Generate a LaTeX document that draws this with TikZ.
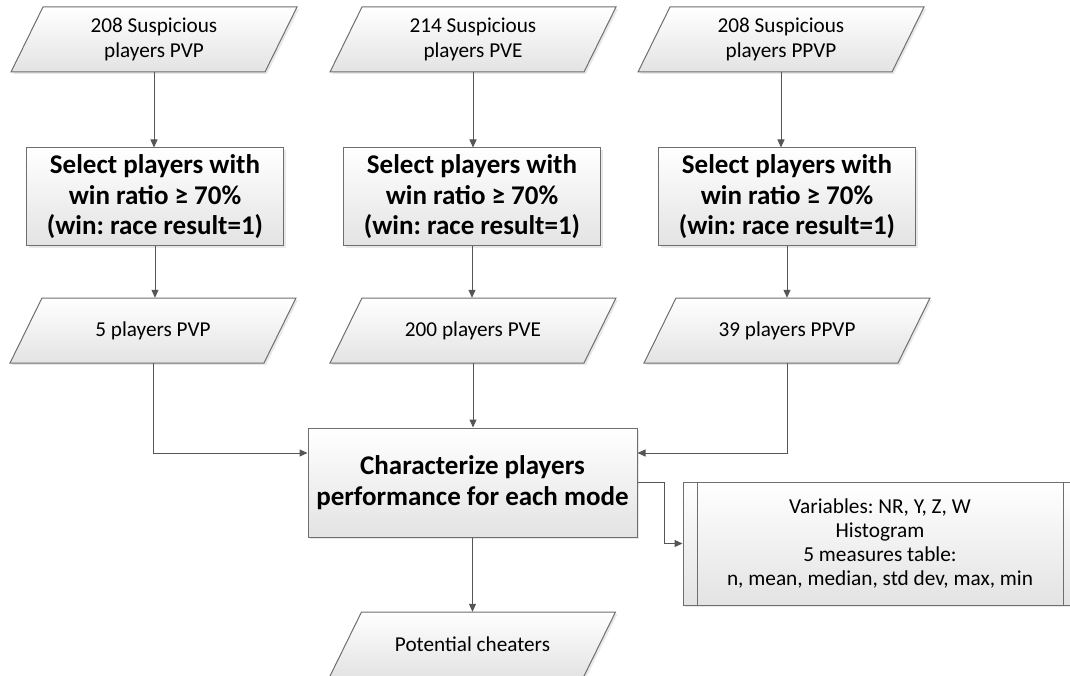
\documentclass[tikz,border=0pt]{standalone}
\usepackage{fontspec}
\setmainfont{Carlito}
\usetikzlibrary{arrows.meta,shadows}
\frenchspacing

\definecolor{edgegray}{HTML}{6E6E6E}
\definecolor{linkgray}{HTML}{555555}

\tikzset{
  boxfill/.style={top color=white, bottom color=black!11, draw=edgegray,
    line width=1pt,
    drop shadow={shadow xshift=2pt, shadow yshift=-2pt, opacity=0.18}},
  procbox/.style={boxfill, rectangle, align=center, inner sep=0pt,
    font=\bfseries\fontsize{27}{30.5}\selectfont},
  iotext/.style={rectangle, inner sep=0pt, minimum height=65pt, align=center,
    font=\fontsize{21.2}{25}\selectfont},
  notebox/.style={boxfill, rectangle, align=center, inner sep=0pt,
    font=\fontsize{21.3}{24}\selectfont,
    path picture={
      \draw[edgegray, line width=1pt]
        ([xshift=14pt]path picture bounding box.north west) --
        ([xshift=14pt]path picture bounding box.south west)
        ([xshift=-14pt]path picture bounding box.north east) --
        ([xshift=-14pt]path picture bounding box.south east);}},
  link/.style={draw=linkgray, line width=1pt,
    -{Triangle[length=8pt,width=7pt]}}
}

% data parallelogram: name, centre x, centre y, text
\newcommand{\ioshape}[4]{%
  \path[boxfill] (#2-111,#3-32.5) -- (#2+143,#3-32.5) --
    (#2+111,#3+32.5) -- (#2-143,#3+32.5) -- cycle;
  \node[iotext] (#1) at (#2,#3) {#4};
}

\begin{document}
\begin{tikzpicture}[x=1pt,y=-1pt]
\useasboundingbox (0,0) rectangle (1070,676);

% input data sets
\ioshape{inpvp}{154}{39.5}{208 Suspicious\\players PVP}
\ioshape{inpve}{473}{39.5}{214 Suspicious\\players PVE}
\ioshape{inppvp}{781}{39.5}{208 Suspicious\\players PPVP}

% win-ratio filters
\node[procbox, minimum width=257pt, minimum height=98pt] (selpvp) at (155,197)
  {Select players with\\win ratio ≥ 70\%\\(win: race result=1)};
\node[procbox, minimum width=257pt, minimum height=98pt] (selpve) at (472,197)
  {Select players with\\win ratio ≥ 70\%\\(win: race result=1)};
\node[procbox, minimum width=257pt, minimum height=98pt] (selppvp) at (787,197)
  {Select players with\\win ratio ≥ 70\%\\(win: race result=1)};

% filtered sets
\ioshape{outpvp}{153}{330.5}{5 players PVP}
\ioshape{outpve}{473}{330.5}{200 players PVE}
\ioshape{outppvp}{787}{330.5}{39 players PPVP}

% characterisation step
\node[procbox, minimum width=329pt, minimum height=109pt] (charac) at (472.5,482.5)
  {Characterize players\\performance for each mode};

% details of the characterisation
\node[notebox, minimum width=394pt, minimum height=123pt] (details) at (880,543.5)
  {Variables: NR, Y, Z, W\\Histogram\\5 measures table:\\n, mean, median, std dev, max, min};

% result
\ioshape{cheaters}{472.5}{644.5}{Potential cheaters}

% connectors
\draw[link] (inpvp.south) -- (inpvp.south |- selpvp.north);
\draw[link] (inpve.south) -- (inpve.south |- selpve.north);
\draw[link] (inppvp.south) -- (inppvp.south |- selppvp.north);

\draw[link] (selpvp.south) -- (selpvp.south |- outpvp.north);
\draw[link] (selpve.south) -- (selpve.south |- outpve.north);
\draw[link] (selppvp.south) -- (selppvp.south |- outppvp.north);

\draw[link] (outpvp.south) |- ([yshift=29.5pt]charac.west);
\draw[link] (outpve.south) -- (outpve.south |- charac.north);
\draw[link] (outppvp.south) |- ([yshift=29.5pt]charac.east);

\draw[link] (charac.east) -- ++(27,0) |- (details.west);
\draw[link] (charac.south) -- (charac.south |- cheaters.north);
\end{tikzpicture}
\end{document}
